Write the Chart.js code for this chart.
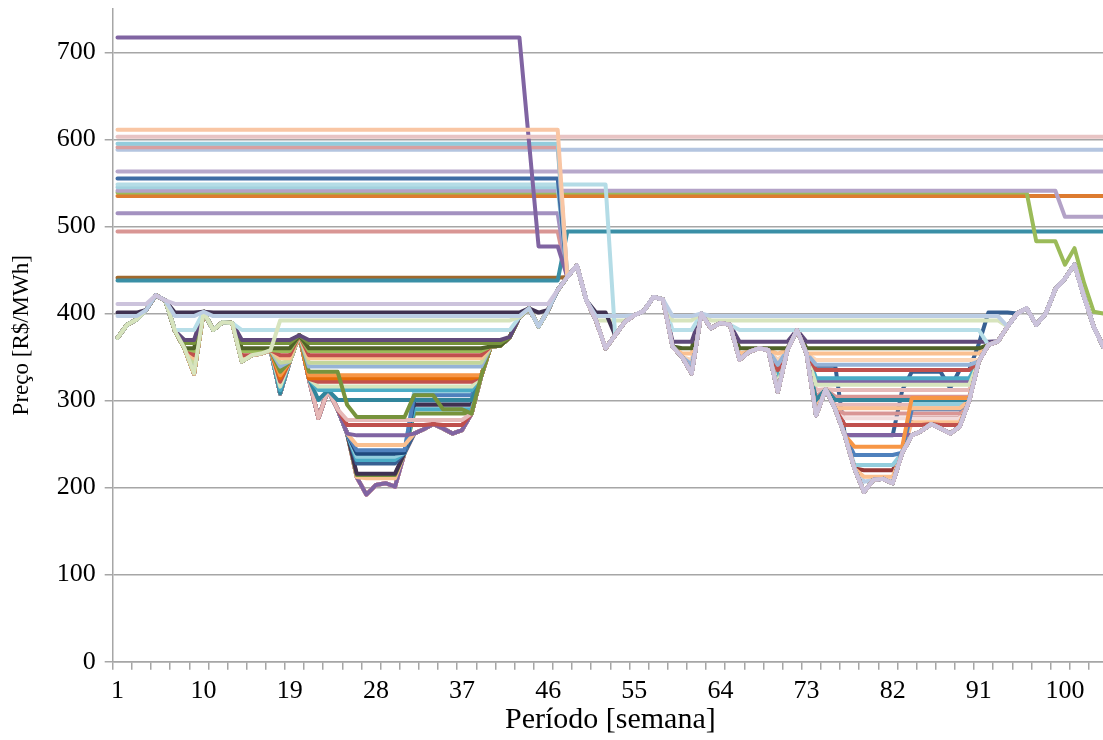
<!DOCTYPE html>
<html>
<head>
<meta charset="utf-8">
<script src="https://cdn.jsdelivr.net/npm/chart.js@4.4.1/dist/chart.umd.min.js"></script>
<style>
html,body{margin:0;padding:0;background:#fff;overflow:hidden;}
#wrap{width:1108px;height:740px;}
</style>
</head>
<body>
<div id="wrap"><canvas id="c" width="1108" height="740"></canvas></div>
<script>
// ---- categories (weeks) ----
const weeks = ['1','2','3','4','5','6','7','8','9','10','11','12','13','14','15','16','17','18','19','20',
'21','22','23','24','25','26','27','28','29','30','31','32','33','34','35','36','37','38','39','40',
'41','42','43','44','45','46','47','48','49','50','51','52','53','54','55','56','57','58','59','60',
'61','62','63','64','65','66','67','68','69','70','71','72','73','74','75','76','77','78','79','80',
'81','82','83','84','85','86','87','88','89','90','91','92','93','94','95','96','97','98','99','100',
'101','102','103','104'];

// ---- lowest price curve ----
const basePrice = [372,387,393,404,421,415,380,360,331,402,
381,390,389,345,352,354,358,308,345,375,
325,280,312,290,262,212,192,203,205,201,
240,262,267,273,268,262,266,285,328,362,
363,373,396,406,385,404,427,442,455,415,
392,360,375,390,398,403,419,416,362,350,
331,400,383,389,387,347,356,360,358,310,
358,381,354,283,313,290,260,222,195,209,
210,205,240,260,265,273,268,262,270,300,
345,364,368,385,400,406,387,400,428,440,
456,419,385,362];

// ---- series colours ----
const seriesColors = [
'#CCC3DC','#BBCDE4','#F9C6A4','#E8C4C4','#8064A2','#94CCDC','#D9A0A0','#B4C5E0',
'#B7A8CB','#3E6CA5','#B4DCE6','#A2D2DF','#B3A2C7','#9BBB59','#DD7B30','#A391C0',
'#D99694','#3A8FA6','#A0692E','#403151','#D7E4BD','#B7DEE8',
'#5F497A','#77933C','#4F6228','#9BBB59','#C0504D','#FAC090','#C3D69B','#95B3D7',
'#77933C','#F79646','#E46C0A','#C0504D','#D7E4BD','#4BACC6','#31859C','#E6B9B8',
'#C0504D','#8064A2','#FAC090','#4F81BD','#1F497D','#93CDDD','#4BACC6','#376092',
'#403151','#77933C','#FAC090','#8064A2','#D99694','#E6B9B8','#D99694','#F2DCDB',
'#953735','#B9CDE5','#FCD5B5','#376092'
];

// ---- price levels of each series: [fromWeek, toWeek, price] (below the curve the series follows basePrice) ----
const seriesLevels = [
[[1,46,411]],
[[1,44,397],[50,93,397]],
[[1,47,611]],
[[1,104,603]],
[[1,43,717],[44,44,597],[45,47,477]],
[[1,47,595]],
[[1,47,591]],
[[1,104,588]],
[[1,104,563]],
[[1,47,555]],
[[1,52,548]],
[[1,47,545]],
[[1,99,541],[100,104,511]],
[[1,96,539],[97,99,483],[100,100,456],[101,101,475],[102,102,435],[103,103,402],[104,104,400]],
[[1,104,535]],
[[1,47,515]],
[[1,47,494]],
[[1,47,438],[48,104,494]],
[[1,47,441]],
[[1,52,401]],
[[18,42,392],[51,93,392]],
[[7,42,381],[59,91,381]],
[[7,42,369.5],[59,94,367.5]],
[[7,42,366]],
[[7,42,360],[59,94,360]],
[[7,42,357]],
[[7,42,352],[59,94,272]],
[[7,42,348.5],[59,94,354]],
[[7,42,343.5]],
[[7,42,339],[59,94,341]],
[[7,24,333],[25,25,295],[26,31,281],[32,34,306],[35,37,290]],
[[7,42,329],[59,83,247],[84,90,303]],
[[7,42,325.5]],
[[7,42,321.6],[59,94,335]],
[[7,42,316],[59,94,318]],
[[7,42,312],[59,94,325.5]],
[[7,42,300.6],[59,94,300.6]],
[[7,42,277.6],[59,94,312]],
[[7,42,272]],
[[7,42,260],[59,94,260.4]],
[[7,42,249],[59,94,291]],
[[7,31,243],[32,38,306],[59,83,237.4],[84,90,290]],
[[7,31,239],[32,38,300]],
[[7,31,235.5],[32,38,310],[59,83,226],[84,90,296]],
[[7,31,231.7],[32,38,290]],
[[7,42,227.8]],
[[7,31,216],[32,38,295]],
[[7,31,214.5],[32,38,285]],
[[7,42,210.7],[59,83,212.5],[84,90,275]],
[[59,94,321.6]],
[[59,94,304.4]],
[[59,94,295]],
[[59,94,285]],
[[59,94,279.6]],
[[59,83,220],[84,90,280]],
[[59,94,206.7]],
[[59,94,346.5]],
[[74,76,340],[77,82,260],[83,83,312],[84,87,333],[88,88,314],[89,90,335],[91,91,365],[92,94,401]]
];

const yTicks = [0,100,200,300,400,500,600,700];
const xLabelEvery = 9;

function seriesValues(levels){
  return basePrice.map(function(b, t){
    const w = t + 1;
    for (const s of levels){
      if (w >= s[0] && w <= s[1]) return Math.max(s[2], b);
    }
    return b;
  });
}

const datasets = seriesLevels.map(function(lv, i){
  return {
    data: seriesValues(lv),
    borderColor: seriesColors[i],
    borderWidth: 4,
    pointRadius: 0,
    pointHoverRadius: 0,
    fill: false,
    tension: 0,
    borderJoinStyle: 'round',
    borderCapStyle: 'round'
  };
});

const serif = '"Liberation Serif", "Times New Roman", serif';
const gridGray = '#a6a6a6';

new Chart(document.getElementById('c'), {
  type: 'line',
  data: { labels: weeks, datasets: datasets },
  options: {
    responsive: false,
    animation: false,
    devicePixelRatio: 1,
    layout: { padding: { top: 8.75, left: 0, right: 0, bottom: 0 } },
    plugins: { legend: { display: false }, tooltip: { enabled: false } },
    scales: {
      x: {
        type: 'category',
        offset: true,
        grid: {
          offset: true,
          drawOnChartArea: false,
          drawTicks: true,
          tickLength: 8,
          lineWidth: 1.5,
          color: gridGray,
          tickColor: function(ctx){ return ctx.index % 2 === 0 ? gridGray : 'rgba(0,0,0,0)'; }
        },
        border: { color: gridGray, width: 1.5 },
        ticks: {
          autoSkip: false,
          maxRotation: 0,
          minRotation: 0,
          padding: 6,
          color: '#000',
          font: { family: serif, size: 26 },
          callback: function(v, i){ return i % xLabelEvery === 0 ? weeks[i] : ''; }
        },
        title: {
          display: true,
          text: 'Período [semana]',
          color: '#000',
          font: { family: serif, size: 30 },
          padding: { top: 0, bottom: 2 }
        },
        afterFit: function(s){ s.height = 78.3; s.paddingLeft = 0; s.paddingRight = 0; }
      },
      y: {
        min: 0,
        max: 750,
        ticks: {
          stepSize: 100,
          padding: 9,
          color: '#000',
          font: { family: serif, size: 26 }
        },
        afterBuildTicks: function(s){ s.ticks = yTicks.map(function(v){ return { value: v }; }); },
        grid: {
          color: gridGray,
          lineWidth: 1.5,
          drawTicks: true,
          tickLength: 8
        },
        border: { color: gridGray, width: 1.5 },
        title: {
          display: true,
          text: 'Preço [R$/MWh]',
          color: '#000',
          font: { family: serif, size: 23 },
          padding: { top: 8, bottom: 0 }
        },
        afterFit: function(s){ s.width = 112.7; s.paddingTop = 0; s.paddingBottom = 0; }
      }
    }
  }
});
</script>
</body>
</html>
